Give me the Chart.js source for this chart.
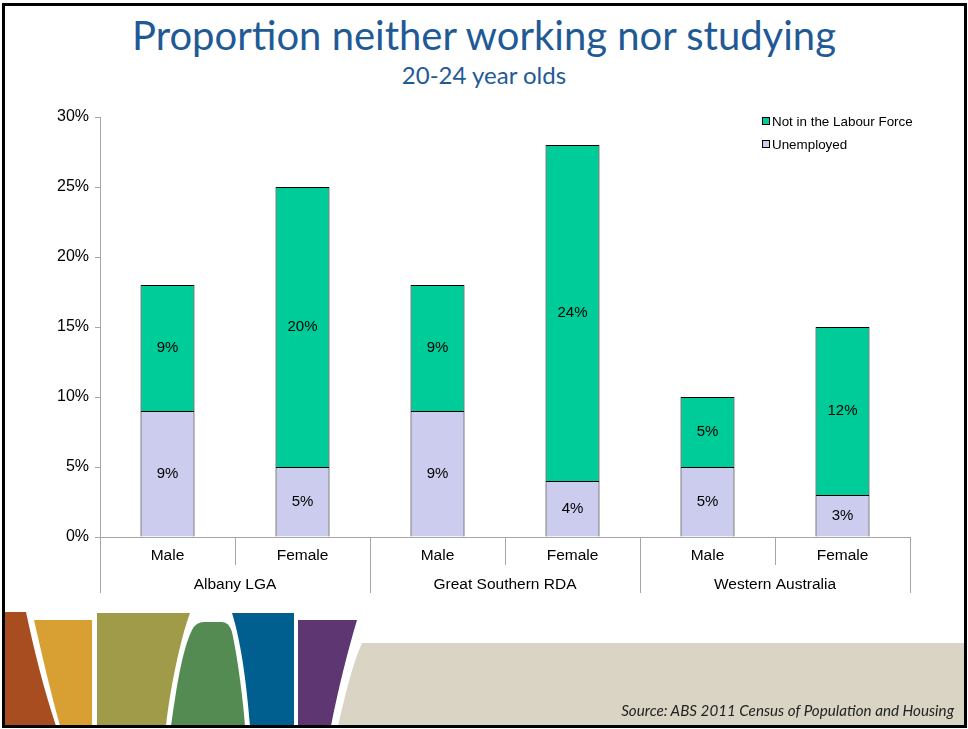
<!DOCTYPE html>
<html lang="en">
<head>
    <meta charset="UTF-8">
    <title>Proportion neither working nor studying</title>
    <script src="https://cdn.jsdelivr.net/npm/chart.js"></script>
    <style>
        body {
            margin: 0;
            background: #fff;
        }
        .slide {
            position: relative;
            width: 968px;
            height: 729px;
            overflow: hidden;
            background: #fff;
        }
        .slide svg, .slide canvas {
            position: absolute;
            left: 0;
            top: 0;
        }
        .frame {
            position: absolute;
            left: 2px;
            top: 3px;
            width: 965px;
            height: 725px;
            box-sizing: border-box;
            border: 3px solid #000;
            pointer-events: none;
        }
        h1 {
            position: absolute;
            left: 0;
            width: 968px;
            top: 11px;
            margin: 0;
            text-align: center;
            font-family: 'Lato', 'Open Sans', sans-serif;
            font-weight: normal;
            font-size: 40px;
            color: #1F5A96;
        }
        h2 {
            position: absolute;
            left: 0;
            width: 968px;
            top: 60px;
            margin: 0;
            text-align: center;
            font-family: 'Lato', 'Open Sans', sans-serif;
            font-weight: normal;
            font-size: 24px;
            color: #1F5A96;
        }
        .source {
            position: absolute;
            right: 14px;
            top: 701px;
            font-family: 'Lato', 'Open Sans', sans-serif;
            font-style: italic;
            font-size: 15.2px;
            color: #222;
        }
    </style>
</head>
<body>
<div class="slide">
    <svg width="968" height="729" viewBox="0 0 968 729">
        <path d="M3,612 L26,612 C34,650 44,690 56,726 L3,726 Z" fill="#A84D20"/>
        <path d="M34,620 L92,620 L92,726 L60,726 C50,690 42,655 34,620 Z" fill="#D8A033"/>
        <path d="M97,613 L190,613 C180,640 170,690 166,726 L97,726 Z" fill="#A09B48"/>
        <path d="M171,726 C176,690 182,650 192,630 Q196,622 204,622 L222,622 Q229,622 232,632 C238,660 243,700 245,726 Z" fill="#548B52"/>
        <path d="M232,613 L294,613 L294,726 L250,726 C247,690 242,645 232,613 Z" fill="#005F8E"/>
        <path d="M298,620 L357,620 C348,650 338,690 331,726 L298,726 Z" fill="#5E3672"/>
        <path d="M362,643 L966,643 L966,726 L338,726 C344,700 352,665 362,643 Z" fill="#D9D4C3"/>
    </svg>
    <h1>Proportion neither working nor studying</h1>
    <h2>20-24 year olds</h2>
    <canvas id="chart" width="968" height="729"></canvas>
    <div class="source">Source: ABS 2011 Census of Population and Housing</div>
    <div class="frame"></div>
</div>

<script>
    const groups = ['Albany LGA', 'Great Southern RDA', 'Western Australia'];
    const categories = ['Male', 'Female', 'Male', 'Female', 'Male', 'Female'];
    const unemployed = [9, 5, 9, 4, 5, 3];
    const notInLabourForce = [9, 20, 9, 24, 5, 12];
    const yTicks = [0, 5, 10, 15, 20, 25, 30];

    const FONT = "'Liberation Sans', Arial, sans-serif";

    // category + group labels, dividers, value labels and legend
    const slidePlugin = {
        id: 'slidePlugin',
        afterDatasetsDraw(chart) {
            const ctx = chart.ctx;
            ctx.save();
            ctx.fillStyle = '#000';
            ctx.font = '15px ' + FONT;
            ctx.textAlign = 'center';
            ctx.textBaseline = 'middle';
            chart.data.datasets.forEach((ds, di) => {
                chart.getDatasetMeta(di).data.forEach((el, i) => {
                    ctx.fillText(ds.data[i] + '%', el.x, (el.y + el.base) / 2);
                });
            });
            ctx.restore();
        },
        afterDraw(chart) {
            const ctx = chart.ctx;
            const x = chart.scales.x;
            const area = chart.chartArea;
            const n = categories.length;
            ctx.save();
            ctx.strokeStyle = '#A6A6A6';
            ctx.lineWidth = 1;
            // dividers
            for (let i = 0; i <= n; i++) {
                let px;
                if (i === 0) px = area.left;
                else if (i === n) px = area.right;
                else px = (x.getPixelForValue(i - 1) + x.getPixelForValue(i)) / 2;
                const len = (i % 2 === 0) ? 56 : 28;
                ctx.beginPath();
                ctx.moveTo(Math.round(px) + 0.5, area.bottom);
                ctx.lineTo(Math.round(px) + 0.5, area.bottom + len);
                ctx.stroke();
            }
            ctx.fillStyle = '#000';
            ctx.font = '15.5px ' + FONT;
            ctx.textAlign = 'center';
            ctx.textBaseline = 'middle';
            categories.forEach((c, i) => {
                ctx.fillText(c, x.getPixelForValue(i), area.bottom + 19);
            });
            groups.forEach((g, gi) => {
                const cx = (x.getPixelForValue(gi * 2) + x.getPixelForValue(gi * 2 + 1)) / 2;
                ctx.fillText(g, cx, area.bottom + 48);
            });

            // legend, top right inside the plot
            const lx = area.right - 148;
            ctx.font = '13.4px ' + FONT;
            ctx.textAlign = 'left';
            const items = chart.data.datasets.slice().reverse();
            items.forEach((ds, k) => {
                const ly = area.top + 4 + k * 23;
                ctx.fillStyle = ds.backgroundColor;
                ctx.fillRect(lx, ly - 4, 7, 7);
                ctx.strokeStyle = '#000';
                ctx.strokeRect(lx + 0.5, ly - 3.5, 7, 7);
                ctx.fillStyle = '#000';
                ctx.fillText(ds.label, lx + 10, ly + 1);
            });
            ctx.restore();
        }
    };

    new Chart(document.getElementById('chart'), {
        type: 'bar',
        data: {
            labels: categories,
            datasets: [{
                label: 'Unemployed',
                data: unemployed,
                backgroundColor: '#CCCCEE',
                borderColor: '#000',
                borderWidth: 1,
                barPercentage: 0.8,
                categoryPercentage: 0.5
            }, {
                label: 'Not in the Labour Force',
                data: notInLabourForce,
                backgroundColor: '#00CC99',
                borderColor: '#000',
                borderWidth: 1,
                barPercentage: 0.8,
                categoryPercentage: 0.5
            }]
        },
        options: {
            responsive: false,
            animation: false,
            layout: {
                padding: { left: 40, right: 58, top: 117, bottom: 192 }
            },
            plugins: {
                legend: { display: false },
                title: { display: false },
                tooltip: { enabled: false }
            },
            scales: {
                x: {
                    stacked: true,
                    ticks: { display: false },
                    grid: { display: false },
                    border: { color: '#A6A6A6' },
                    afterFit: (scale) => { scale.height = 0; }
                },
                y: {
                    stacked: true,
                    min: yTicks[0],
                    max: yTicks[yTicks.length - 1],
                    afterBuildTicks: (scale) => {
                        scale.ticks = yTicks.map(v => ({ value: v }));
                    },
                    ticks: {
                        color: '#000',
                        font: { family: FONT, size: 16 },
                        padding: 6,
                        callback: (v) => v + '%'
                    },
                    grid: {
                        drawOnChartArea: false,
                        drawTicks: true,
                        tickLength: 5,
                        color: '#A6A6A6'
                    },
                    border: { color: '#A6A6A6' },
                    afterFit: (scale) => { scale.width = 60; }
                }
            }
        },
        plugins: [slidePlugin]
    });
</script>
</body>
</html>
